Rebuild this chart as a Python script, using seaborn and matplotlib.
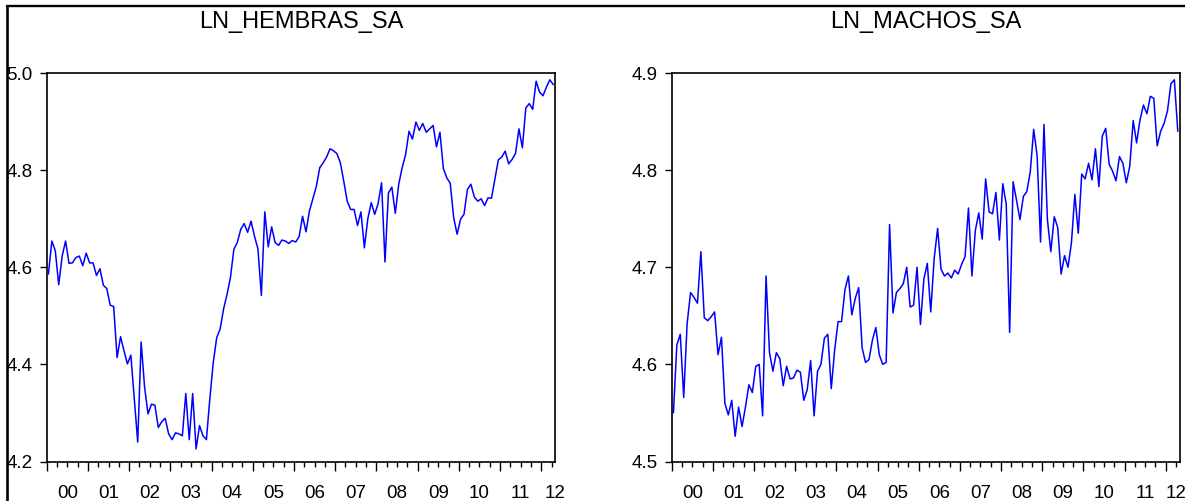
# plot.py
# Two EViews-style monthly panels: LN_HEMBRAS_SA and LN_MACHOS_SA (2000M1 - 2012M4)

import numpy as np
import pandas as pd
import seaborn as sns
import matplotlib.pyplot as plt
import matplotlib.transforms as mtransforms
from matplotlib.lines import Line2D

# --- data (monthly, 2000M1 onwards) ---
hembras = [
    4.586, 4.654, 4.634, 4.564, 4.623, 4.654, 4.608, 4.609, 4.620, 4.623, 4.603, 4.629,
    4.609, 4.609, 4.583, 4.597, 4.563, 4.556, 4.522, 4.519, 4.414, 4.457, 4.428, 4.401,
    4.419, 4.330, 4.240, 4.446, 4.353, 4.298, 4.318, 4.316, 4.270, 4.282, 4.289, 4.257,
    4.245, 4.259, 4.257, 4.253, 4.340, 4.245, 4.340, 4.226, 4.274, 4.253, 4.245, 4.329,
    4.404, 4.455, 4.473, 4.514, 4.544, 4.579, 4.637, 4.651, 4.678, 4.690, 4.672, 4.695,
    4.664, 4.638, 4.542, 4.714, 4.642, 4.683, 4.651, 4.645, 4.656, 4.654, 4.649, 4.655,
    4.652, 4.663, 4.705, 4.673, 4.716, 4.741, 4.766, 4.805, 4.815, 4.827, 4.844, 4.840,
    4.834, 4.815, 4.777, 4.736, 4.719, 4.719, 4.686, 4.714, 4.640, 4.700, 4.733, 4.709,
    4.731, 4.774, 4.611, 4.753, 4.765, 4.711, 4.771, 4.805, 4.832, 4.880, 4.864, 4.899,
    4.882, 4.896, 4.878, 4.885, 4.892, 4.848, 4.878, 4.803, 4.784, 4.773, 4.702, 4.668,
    4.699, 4.709, 4.760, 4.771, 4.745, 4.736, 4.741, 4.727, 4.743, 4.742, 4.781, 4.821,
    4.827, 4.839, 4.813, 4.822, 4.834, 4.885, 4.846, 4.928, 4.937, 4.925, 4.983, 4.961,
    4.953, 4.971, 4.986, 4.976,
]

machos = [
    4.550, 4.620, 4.631, 4.566, 4.642, 4.674, 4.669, 4.663, 4.716, 4.648, 4.645, 4.649,
    4.654, 4.610, 4.628, 4.560, 4.548, 4.563, 4.526, 4.556, 4.536, 4.556, 4.579, 4.571,
    4.598, 4.600, 4.547, 4.691, 4.612, 4.593, 4.612, 4.606, 4.578, 4.598, 4.585, 4.586,
    4.594, 4.592, 4.563, 4.574, 4.604, 4.547, 4.593, 4.600, 4.627, 4.631, 4.575, 4.615,
    4.644, 4.644, 4.677, 4.691, 4.651, 4.668, 4.679, 4.617, 4.602, 4.605, 4.625, 4.638,
    4.610, 4.600, 4.602, 4.744, 4.653, 4.674, 4.678, 4.683, 4.700, 4.659, 4.661, 4.700,
    4.641, 4.688, 4.704, 4.654, 4.709, 4.740, 4.698, 4.691, 4.694, 4.689, 4.697, 4.693,
    4.703, 4.711, 4.761, 4.691, 4.738, 4.756, 4.729, 4.791, 4.757, 4.755, 4.777, 4.728,
    4.786, 4.765, 4.633, 4.788, 4.769, 4.749, 4.773, 4.778, 4.798, 4.842, 4.815, 4.726,
    4.847, 4.749, 4.716, 4.752, 4.741, 4.693, 4.712, 4.700, 4.725, 4.775, 4.735, 4.796,
    4.791, 4.807, 4.790, 4.822, 4.783, 4.835, 4.843, 4.806, 4.799, 4.789, 4.814, 4.807,
    4.787, 4.804, 4.851, 4.828, 4.852, 4.867, 4.858, 4.876, 4.874, 4.825, 4.840, 4.848,
    4.861, 4.889, 4.893, 4.840,
]

year_labels = ["00", "01", "02", "03", "04", "05", "06", "07", "08", "09", "10", "11", "12"]
titles = ["LN_HEMBRAS_SA", "LN_MACHOS_SA"]
y_limits = [(4.2, 5.0), (4.5, 4.9)]
y_ticks = [[4.2, 4.4, 4.6, 4.8, 5.0], [4.5, 4.6, 4.7, 4.8, 4.9]]

n = len(hembras)
df = pd.DataFrame({"month": np.arange(n), titles[0]: hembras, titles[1]: machos})

# --- styling ---
sns.set_style("ticks")
plt.rcParams["font.family"] = ["Liberation Sans Narrow", "DejaVu Sans Condensed", "Liberation Sans"]
plt.rcParams["text.color"] = "black"
plt.rcParams["xtick.color"] = "black"
plt.rcParams["ytick.color"] = "black"

W, H = 1185, 501
fig = plt.figure(figsize=(W / 100, H / 100), dpi=100)
fig.patch.set_facecolor("white")

axes = [
    fig.add_axes([46.7 / W, 39.5 / H, 508.3 / W, 388.5 / H]),
    fig.add_axes([671.7 / W, 39.5 / H, 507.8 / W, 388.5 / H]),
]

for j, (ax, col, ylim, yt) in enumerate(zip(axes, titles, y_limits, y_ticks)):
    sns.lineplot(data=df, x="month", y=col, ax=ax, color="#0000ff", linewidth=1.1)

    ax.set_xlim(-0.5, n - 0.5)
    ax.set_ylim(*ylim)
    ax.set_yticks(yt)
    ax.set_yticklabels([f"{v:.1f}" for v in yt])
    ax.set_xlabel("")
    ax.set_ylabel("")

    # year ticks long, quarter ticks short, labels mid-year
    ax.set_xticks(np.arange(-0.5, n, 12))
    ax.set_xticks(np.arange(-0.5, n, 3), minor=True)
    ax.tick_params(axis="x", which="major", length=6.5, width=1, direction="out",
                   bottom=True, labelbottom=False)
    ax.tick_params(axis="x", which="minor", length=3.6, width=1, direction="out",
                   bottom=True)
    ax.tick_params(axis="y", which="major", length=5, width=1, direction="out", pad=5,
                   labelsize=13.5, left=True)
    ax.tick_params(axis="y", which="minor", left=False)

    trans = mtransforms.blended_transform_factory(ax.transData, ax.transAxes)
    for k, lab in enumerate(year_labels):
        pos = min(12 * k + 5.5, n - 0.5)
        ha = "center"
        if j == 1 and k == len(year_labels) - 1:
            ha = "right"  # keep the clipped last label inside the picture
            pos = n + 1.5
        ax.text(pos, -0.082, lab, transform=trans, ha=ha, va="center", fontsize=13.5)

    for s in ax.spines.values():
        s.set_visible(True)
        s.set_color("black")
        s.set_linewidth(1.2)

    box = ax.get_position()
    fig.text(box.x0 + box.width / 2, 1 - 22 / H, col, ha="center", va="center",
             fontsize=17)

# outer graph frame (left and top edges visible in the crop)
fig.add_artist(Line2D([6.8 / W, 6.8 / W], [0, 1 - 6 / H], transform=fig.transFigure,
                      color="black", linewidth=1.9))
fig.add_artist(Line2D([6.8 / W, 1], [1 - 6 / H, 1 - 6 / H], transform=fig.transFigure,
                      color="black", linewidth=1.7))

fig.savefig("out.png", dpi=100)
plt.close(fig)
